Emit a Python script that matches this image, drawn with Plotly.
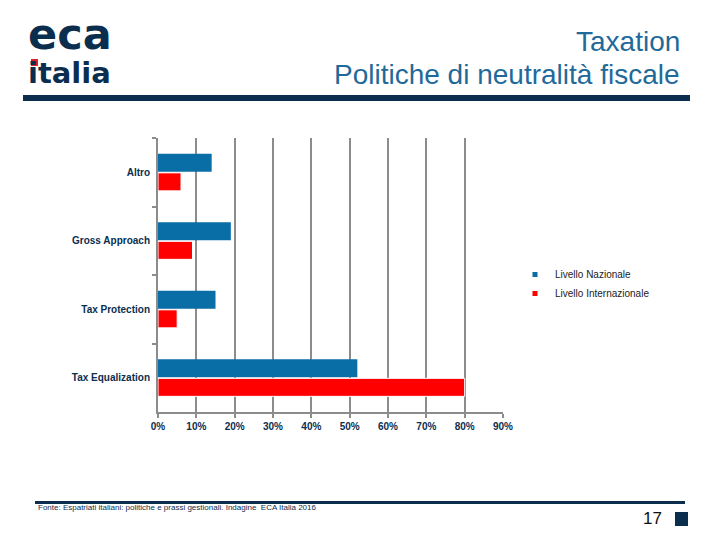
import plotly.graph_objects as go

categories = ["Altro", "Gross Approach", "Tax Protection", "Tax Equalization"]
nazionale = [0.14, 0.19, 0.15, 0.52]
internazionale = [0.06, 0.09, 0.05, 0.80]
series_names = ["Livello Nazionale", "Livello Internazionale"]
tick_vals = [0, 0.1, 0.2, 0.3, 0.4, 0.5, 0.6, 0.7, 0.8, 0.9]
tick_text = ["0%", "10%", "20%", "30%", "40%", "50%", "60%", "70%", "80%", "90%"]

OFF = 8  # default body margin of the html page
W, H = 720 - 2 * OFF, 540 - 2 * OFF
# plot area in page pixels
L, R, T, B = 158, 503, 138, 412


def px(x):
    return (x - L) / (R - L)


def py(y):
    return (B - y) / (B - T)


NAVY = "#0B2E4F"
BLUE = "#0A6EA6"
RED = "#FF0000"
GRID = "#8C8C8C"
FONT = "Liberation Sans, Arial, sans-serif"
LOGO_FONT = "DejaVu Sans, Liberation Sans, sans-serif"

fig = go.Figure()
fig.add_trace(go.Bar(y=categories, x=nazionale, name=series_names[0], orientation="h",
                     marker=dict(color=BLUE, line=dict(width=0)), showlegend=False))
fig.add_trace(go.Bar(y=categories, x=internazionale, name=series_names[1], orientation="h",
                     marker=dict(color=RED, line=dict(width=1, color="white")), showlegend=False))
# legend entries with small square markers
for nm, col in zip(series_names, [BLUE, RED]):
    fig.add_trace(go.Scatter(x=[None], y=[None], mode="markers", name=nm,
                             marker=dict(symbol="square", size=5, color=col)))

fig.update_layout(
    width=W, height=H,
    margin=dict(l=L - OFF, r=W - (R - OFF), t=T - OFF, b=H - (B - OFF), pad=0),
    paper_bgcolor="white", plot_bgcolor="white",
    barmode="group", bargap=0.44, bargroupgap=0.06,
    font=dict(family=FONT, color=NAVY),
    showlegend=True,
    legend=dict(x=px(515), y=py(260), xanchor="left", yanchor="top",
                font=dict(size=10, color="#222222", family=FONT),
                itemwidth=30, tracegroupgap=0, bgcolor="rgba(0,0,0,0)",
                itemsizing="trace"),
    xaxis=dict(range=[0, 0.9], tickvals=tick_vals, ticktext=tick_text,
               showgrid=True, gridcolor=GRID, gridwidth=2,
               showline=True, linecolor=GRID, linewidth=2,
               ticks="outside", ticklen=4, tickcolor=GRID, tickwidth=2,
               tickfont=dict(size=10, color=NAVY, family=FONT, weight="bold"),
               zeroline=False, fixedrange=True),
    yaxis=dict(autorange="reversed", showgrid=False,
               showline=True, linecolor=GRID, linewidth=2,
               ticks="outside", ticklen=4, tickcolor=GRID, tickwidth=2,
               tickson="boundaries",
               tickfont=dict(size=10, color=NAVY, family=FONT, weight="bold"),
               ticklabelstandoff=4, fixedrange=True),
)

shapes = [
    dict(type="rect", xref="paper", yref="paper", x0=px(23), x1=px(690), y0=py(95), y1=py(101),
         fillcolor=NAVY, line=dict(width=0)),
    dict(type="rect", xref="paper", yref="paper", x0=px(35), x1=px(685), y0=py(501), y1=py(504),
         fillcolor=NAVY, line=dict(width=0)),
    dict(type="rect", xref="paper", yref="paper", x0=px(675), x1=px(688), y0=py(512), y1=py(526),
         fillcolor=NAVY, line=dict(width=0)),
]

logo_text = ("<span style='font-size:43px'>eca</span><br>"
             "<span style='font-size:29px'>italia</span>")

ann = [
    dict(text="Taxation", x=px(682), y=py(41), xanchor="right", yanchor="middle",
         font=dict(size=28, color="#1F6A9A", family=FONT)),
    dict(text="Politiche di neutralità fiscale", x=px(682), y=py(74), xanchor="right", yanchor="middle",
         font=dict(size=28, color="#1F6A9A", family=FONT)),
    dict(text=logo_text, x=px(26), y=py(49), xanchor="left", yanchor="middle", align="left",
         font=dict(size=26, color=NAVY, family=LOGO_FONT, weight="bold")),
    dict(text="Fonte: Espatriati italiani: politiche e prassi gestionali. Indagine  ECA Italia 2016",
         x=px(36), y=py(507), xanchor="left", yanchor="middle",
         font=dict(size=8, color=NAVY, family=FONT)),
    dict(text="17", x=px(664), y=py(518), xanchor="right", yanchor="middle",
         font=dict(size=17, color="#111111", family=FONT)),
]
for a in ann:
    a.update(xref="paper", yref="paper", showarrow=False)

# red dot on the "i" of the logo, drawn above the text
shapes.append(dict(type="rect", xref="paper", yref="paper", x0=px(31), x1=px(38),
                   y0=py(59), y1=py(66), fillcolor="#E0202A", line=dict(width=0), layer="above"))
fig.update_layout(shapes=shapes, annotations=ann)

fig.write_html("out.html")
